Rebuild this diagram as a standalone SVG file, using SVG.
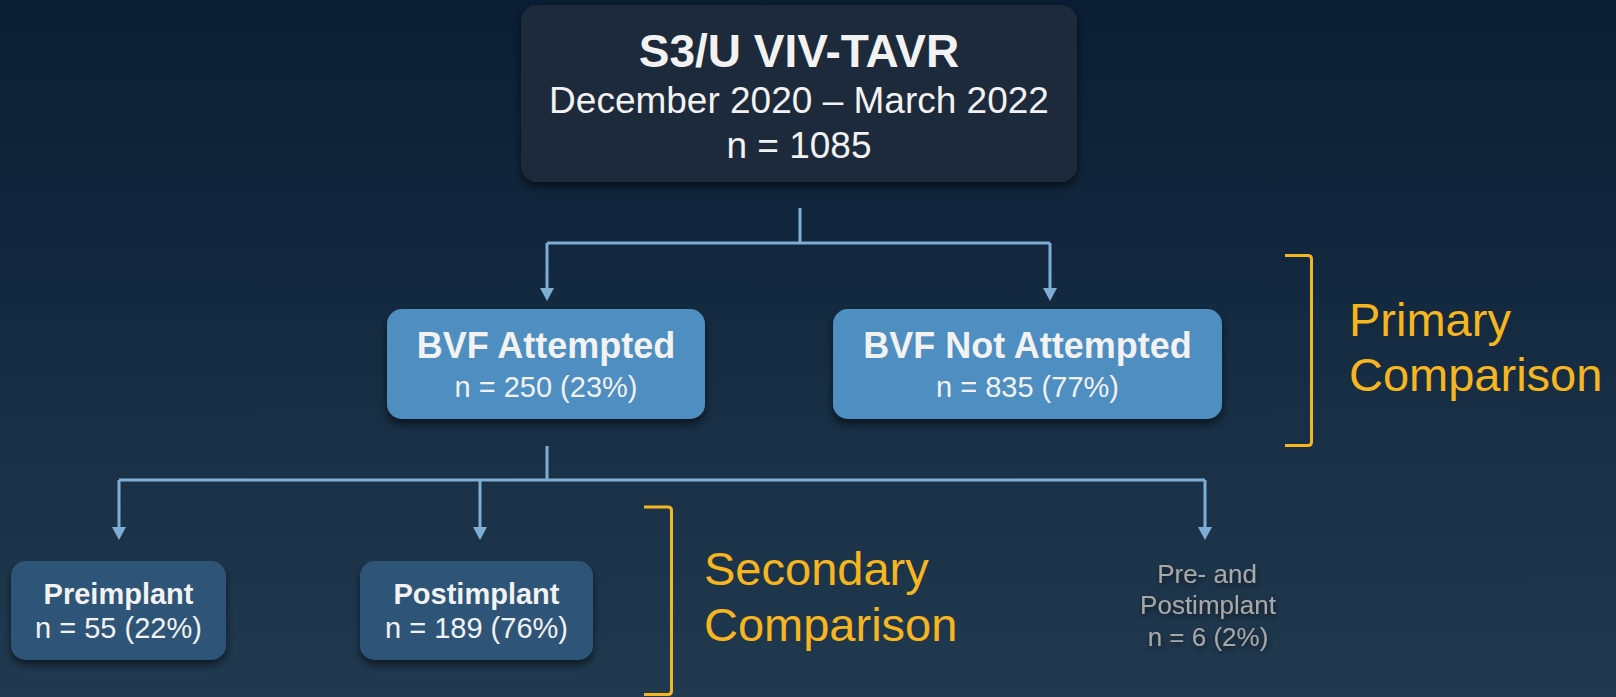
<svg xmlns="http://www.w3.org/2000/svg" width="1616" height="697" viewBox="0 0 1616 697">
  <defs>
    <linearGradient id="bg" x1="0" y1="0" x2="0" y2="1">
      <stop offset="0" stop-color="#0a1d33"/>
      <stop offset="1" stop-color="#213a50"/>
    </linearGradient>
    <filter id="shadow" x="-10%" y="-10%" width="120%" height="130%">
      <feDropShadow dx="0" dy="5" stdDeviation="4" flood-color="#000" flood-opacity="0.55"/>
    </filter>
    <filter id="tshadow" x="-10%" y="-20%" width="120%" height="150%">
      <feDropShadow dx="1" dy="3" stdDeviation="3" flood-color="#000" flood-opacity="0.6"/>
    </filter>
    <marker id="arrow" markerUnits="userSpaceOnUse" markerWidth="13" markerHeight="14" refX="0" refY="7" orient="auto">
      <path d="M0,0 L13,7 L0,14 z" fill="#7eaed4"/>
    </marker>
    <style>
      .t { font-family: "Liberation Sans", Arial, sans-serif; fill: #f2f2f2; text-anchor: middle; }
      .b { font-weight: bold; }
      .conn { stroke: #7eaed4; stroke-width: 3; fill: none; }
      .arr { stroke: #7eaed4; stroke-width: 3; fill: none; marker-end: url(#arrow); }
      .brk { stroke: #f7b51e; stroke-width: 3; fill: none; }
      .cmp { font-family: "Liberation Sans", Arial, sans-serif; fill: #f7b51e; font-size: 47px; }
      .gray { font-family: "Liberation Sans", Arial, sans-serif; fill: #a8a8a8; font-size: 26px; text-anchor: middle; }
    </style>
  </defs>

  <rect x="0" y="0" width="1616" height="697" fill="url(#bg)"/>

  <g id="connectors">
    <line class="conn" x1="800" y1="208" x2="800" y2="243"/>
    <line class="conn" x1="547" y1="243" x2="1050" y2="243"/>
    <line class="arr" x1="547" y1="243" x2="547" y2="288"/>
    <line class="arr" x1="1050" y1="243" x2="1050" y2="288"/>
    <line class="conn" x1="547" y1="446" x2="547" y2="480"/>
    <line class="conn" x1="119" y1="480" x2="1205" y2="480"/>
    <line class="arr" x1="119" y1="480" x2="119" y2="527"/>
    <line class="arr" x1="480" y1="480" x2="480" y2="527"/>
    <line class="arr" x1="1205" y1="480" x2="1205" y2="527"/>
  </g>

  <g id="node-root">
    <rect x="521" y="5" width="556" height="177" rx="16" fill="#1b2a3b" filter="url(#shadow)"/>
    <text class="t b" x="799" y="67" font-size="46">S3/U VIV-TAVR</text>
    <text class="t" x="799" y="113" font-size="37">December 2020 – March 2022</text>
    <text class="t" x="799" y="158" font-size="37">n = 1085</text>
  </g>

  <g id="node-bvf-attempted">
    <rect x="387" y="309" width="318" height="110" rx="15" fill="#4f8ec0" filter="url(#shadow)"/>
    <text class="t b" x="546" y="358" font-size="36">BVF Attempted</text>
    <text class="t" x="546" y="397" font-size="29">n = 250 (23%)</text>
  </g>

  <g id="node-bvf-not-attempted">
    <rect x="833" y="309" width="389" height="110" rx="15" fill="#4f8ec0" filter="url(#shadow)"/>
    <text class="t b" x="1027.5" y="358" font-size="36">BVF Not Attempted</text>
    <text class="t" x="1027.5" y="397" font-size="29">n = 835 (77%)</text>
  </g>

  <g id="node-preimplant">
    <rect x="11" y="561" width="215" height="99" rx="15" fill="#2f5577" filter="url(#shadow)"/>
    <text class="t b" x="118.5" y="604" font-size="29">Preimplant</text>
    <text class="t" x="118.5" y="638" font-size="29">n = 55 (22%)</text>
  </g>

  <g id="node-postimplant">
    <rect x="360" y="561" width="233" height="99" rx="15" fill="#2f5577" filter="url(#shadow)"/>
    <text class="t b" x="476.5" y="604" font-size="29">Postimplant</text>
    <text class="t" x="476.5" y="638" font-size="29">n = 189 (76%)</text>
  </g>

  <g id="node-pre-and-post" filter="url(#tshadow)">
    <text class="gray" x="1207" y="583">Pre- and</text>
    <text class="gray" x="1208" y="614">Postimplant</text>
    <text class="gray" x="1208" y="646">n = 6 (2%)</text>
  </g>

  <g id="primary-comparison">
    <path class="brk" d="M1285,255.5 H1308 Q1311.5,255.5 1311.5,259 V442 Q1311.5,445.5 1308,445.5 H1285"/>
    <text class="cmp" x="1349" y="336">Primary</text>
    <text class="cmp" x="1349" y="391">Comparison</text>
  </g>

  <g id="secondary-comparison">
    <path class="brk" d="M644,507 H668 Q671.5,507 671.5,510.5 V691 Q671.5,694.5 668,694.5 H644"/>
    <text class="cmp" x="704" y="585">Secondary</text>
    <text class="cmp" x="704" y="641">Comparison</text>
  </g>
</svg>
